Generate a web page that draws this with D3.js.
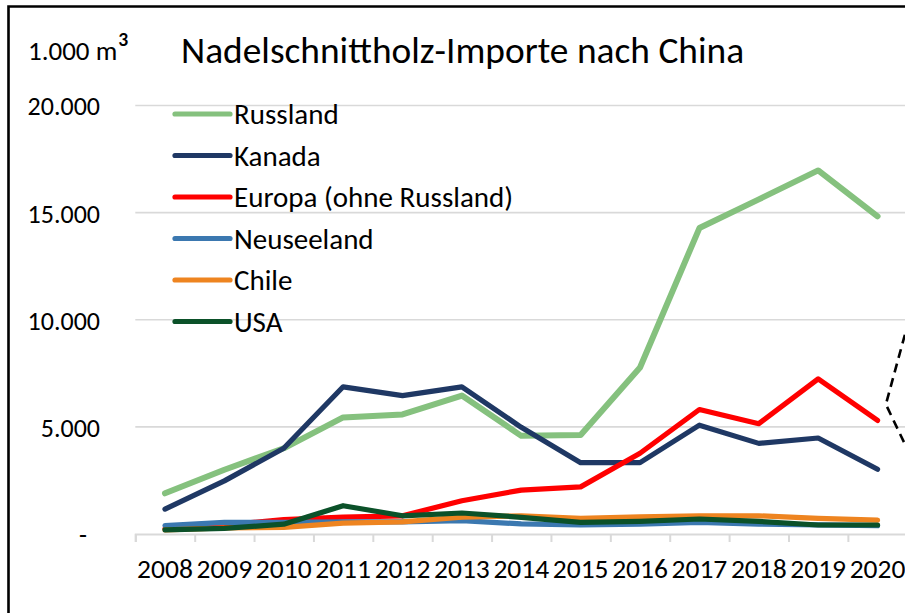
<!DOCTYPE html>
<html>
<head>
<meta charset="utf-8">
<script src="https://cdn.jsdelivr.net/npm/d3@7"></script>
<style>
  body { margin: 0; background: #fff; }
  svg text { font-family: Carlito, Calibri, Lato, sans-serif; fill: #000; }
</style>
</head>
<body>
<div id="wrapper"></div>
<script>
// 1. Data (1.000 m³)
const years = [2008, 2009, 2010, 2011, 2012, 2013, 2014, 2015, 2016, 2017, 2018, 2019, 2020]
const russland   = [1900, 3000, 4000, 5440, 5580, 6460, 4580, 4620, 7770, 14280, 15620, 16970, 14830]
const kanada     = [1160, 2480, 4000, 6870, 6460, 6870, 4980, 3330, 3330, 5080, 4230, 4480, 3020]
const europa     = [250, 420, 670, 790, 850, 1550, 2050, 2200, 3770, 5810, 5150, 7240, 5300]
const neuseeland = [390, 540, 540, 570, 570, 620, 470, 430, 460, 540, 460, 430, 390]
const chile      = [190, 280, 310, 510, 570, 790, 850, 730, 800, 850, 850, 730, 650]
const usa        = [190, 260, 460, 1320, 850, 980, 780, 540, 590, 700, 590, 420, 420]
const seriesNames = ["Russland", "Kanada", "Europa (ohne Russland)", "Neuseeland", "Chile", "USA"]
const seriesColors = ["#85c17e", "#1f3864", "#ff0000", "#3b78b0", "#ee8420", "#0b5129"]
const yTicks = [0, 5000, 10000, 15000, 20000]
const yTickLabels = ["-", "5.000", "10.000", "15.000", "20.000"]
// dashed annotation at the cut-off right edge, in data units
const dashYears = [2020.46, 2020.14, 2020.46]
const dashValues = [9300, 6050, 4200]

const seriesValues = [russland, kanada, europa, neuseeland, chile, usa]

// 2. Dimensions
const dimensions = {
  width: 905,
  height: 613,
  plotLeft: 135.3,
  step: 59.38,
  yTop: 105.5,
  yBottom: 534,
}

// 3. Canvas
const wrapper = d3.select("#wrapper")
  .append("svg")
    .attr("width", dimensions.width)
    .attr("height", dimensions.height)

// frame (cropped, only left and top visible)
wrapper.append("path")
  .attr("d", `M8.5,${dimensions.height} V6.5 H${dimensions.width}`)
  .attr("fill", "none")
  .attr("stroke", "#000")
  .attr("stroke-width", 2.6)

// 4. Scales
const xScale = d3.scaleLinear()
  .domain([years[0] - 0.5, years[years.length - 1] + 0.5])
  .range([dimensions.plotLeft, dimensions.plotLeft + years.length * dimensions.step])

const yScale = d3.scaleLinear()
  .domain([0, 20000])
  .range([dimensions.yBottom, dimensions.yTop])

// 6. Peripherals
const grid = wrapper.append("g")
yTicks.slice(1).forEach(t => {
  grid.append("line")
    .attr("x1", xScale.range()[0])
    .attr("x2", xScale.range()[1])
    .attr("y1", yScale(t))
    .attr("y2", yScale(t))
    .attr("stroke", "#d9d9d9")
    .attr("stroke-width", 1.6)
})

const xAxis = d3.axisBottom(xScale)
  .tickValues(d3.range(years[0] - 0.5, years[years.length - 1] + 0.6, 1))
  .tickSize(8)
  .tickFormat("")
const xAxisGroup = wrapper.append("g")
  .attr("transform", `translate(0, ${dimensions.yBottom})`)
  .call(xAxis)
xAxisGroup.select(".domain").attr("stroke", "#d9d9d9").attr("stroke-width", 2)
xAxisGroup.selectAll(".tick line").attr("stroke", "#d9d9d9").attr("stroke-width", 2)

wrapper.append("g").selectAll("text")
  .data(years)
  .join("text")
    .attr("x", d => xScale(d))
    .attr("y", 578)
    .attr("text-anchor", "middle")
    .style("font-size", "27.5px")
    .text(d => d)

const yAxis = d3.axisLeft(yScale)
  .tickValues(yTicks)
  .tickSize(0)
  .tickFormat((d, i) => yTickLabels[i] === "-" ? "-\u2002" : yTickLabels[i])
const yAxisGroup = wrapper.append("g")
  .attr("transform", "translate(100, 0)")
  .call(yAxis)
yAxisGroup.select(".domain").remove()
yAxisGroup.selectAll(".tick text")
  .attr("x", 0)
  .attr("dy", "0.36em")
  .style("font-size", "26px")
  .style("white-space", "pre")
  .attr("font-family", null)

const unitLabel = wrapper.append("text")
  .attr("x", 28)
  .attr("y", 60)
  .style("font-size", "27px")
unitLabel.append("tspan").text("1.000 m")
unitLabel.append("tspan")
  .attr("dy", 2)
  .style("font-size", "36px")
  .text("³")

wrapper.append("text")
  .attr("x", 181)
  .attr("y", 63)
  .style("font-size", "37.4px")
  .text("Nadelschnittholz-Importe nach China")

// 5. Data lines
const lineGenerator = d3.line()
  .x((d, i) => xScale(years[i]))
  .y(d => yScale(d))

const lines = wrapper.append("g")
seriesValues.forEach((values, i) => {
  lines.append("path")
    .datum(values)
    .attr("d", lineGenerator)
    .attr("fill", "none")
    .attr("stroke", seriesColors[i])
    .attr("stroke-width", i === 0 ? 6 : 5.2)
    .attr("stroke-linejoin", "round")
    .attr("stroke-linecap", "round")
})

// dashed annotation
wrapper.append("path")
  .datum(dashYears.map((y, i) => [y, dashValues[i]]))
  .attr("d", d3.line().x(d => xScale(d[0])).y(d => yScale(d[1])))
  .attr("fill", "none")
  .attr("stroke", "#000")
  .attr("stroke-width", 2.6)
  .attr("stroke-dasharray", "9,6")

// legend
const legend = wrapper.append("g").attr("transform", "translate(175, 114)")
seriesNames.forEach((name, i) => {
  const row = legend.append("g").attr("transform", `translate(0, ${i * 41.5})`)
  row.append("line")
    .attr("x1", 0)
    .attr("x2", 55)
    .attr("stroke", seriesColors[i])
    .attr("stroke-width", 5.2)
    .attr("stroke-linecap", "round")
  row.append("text")
    .attr("x", 59)
    .attr("dy", "0.36em")
    .style("font-size", "29px")
    .text(name)
})
</script>
</body>
</html>
